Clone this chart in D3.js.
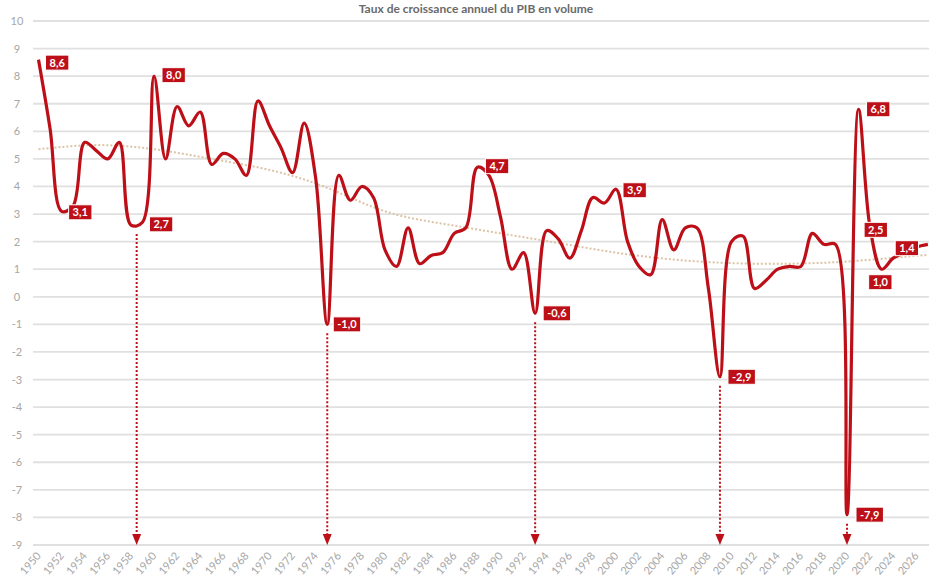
<!DOCTYPE html>
<html>
<head>
<meta charset="utf-8">
<script src="https://cdn.jsdelivr.net/npm/d3@7"></script>
<style>
  html, body { margin: 0; padding: 0; background: #ffffff; }
  svg { display: block; }
</style>
</head>
<body>
<svg id="chart" width="929" height="579"></svg>
<script>
// ---------- DATA ----------
const title = "Taux de croissance annuel du PIB en volume";
const firstYear = 1950;
const growth = [
  8.6, 6.1, 3.1, 3.3, 5.6, 5.3, 5.0, 5.6, 2.6, 2.7,   // 1950-1959
  8.0, 5.0, 6.9, 6.2, 6.7, 4.8, 5.2, 5.0, 4.4, 7.1,   // 1960-1969
  6.2, 5.4, 4.5, 6.3, 4.3, -1.0, 4.4, 3.5, 4.0, 3.6,  // 1970-1979
  1.7, 1.1, 2.5, 1.2, 1.5, 1.6, 2.3, 2.5, 4.7, 4.4,   // 1980-1989
  2.9, 1.0, 1.6, -0.6, 2.4, 2.1, 1.4, 2.4, 3.6, 3.4,  // 1990-1999
  3.9, 2.0, 1.1, 0.8, 2.8, 1.7, 2.5, 2.5, 0.3, -2.9,  // 2000-2009
  2.0, 2.2, 0.3, 0.6, 1.0, 1.1, 1.1, 2.3, 1.9, 1.9,   // 2010-2019
  -7.9, 6.8, 2.5, 1.0, 1.4, 1.6, 1.8, 1.9             // 2020-2027
];
const years = growth.map((_, i) => firstYear + i);

// trend line
const trendYears  = [1950, 1955, 1960, 1965, 1970, 1975, 1980, 1985, 1990, 1995, 2000, 2005, 2010, 2015, 2020, 2025, 2027];
const trendValues = [5.35, 5.5, 5.35, 5.0, 4.6, 3.95, 3.1, 2.65, 2.3, 1.95, 1.6, 1.35, 1.22, 1.2, 1.28, 1.45, 1.52];

// annotated points
const labelYears = [1950, 1952, 1959, 1960, 1975, 1988, 1993, 2000, 2009, 2020, 2021, 2022, 2023, 2024];
// recession arrows
const arrowYears = [1958.5, 1975, 1993, 2009, 2020];

const yTicks = [10, 9, 8, 7, 6, 5, 4, 3, 2, 1, 0, -1, -2, -3, -4, -5, -6, -7, -8, -9];
const xTickYears = years.filter(y => y % 2 === 0 && y <= 2026);

// ---------- LAYOUT / STYLE ----------
const RED = "#bd0f18";
const GRID = "#e0e0e0";
const AXIS_TXT = "#a6a6a6";
const fontAxis = "Lato, 'Open Sans', sans-serif";

// label placement (box left offset, centre offset relative to point)
const labelPlace = {
  1950: [7, 3], 1952: [7, 1], 1959: [7, 2], 1960: [8, -1], 1975: [6, 0],
  1988: [8, -1], 1993: [8, 0], 2000: [7, 1], 2009: [8, 0], 2020: [9, 0],
  2021: [8, 0], 2022: [-6, 2], 2023: [-13, 13], 2024: [2, -10]
};

const svg = d3.select("#chart");
const x = d3.scaleLinear().domain([1950, 2027]).range([38.5, 38.5 + 77 * 11.55]);
const y = d3.scaleLinear().domain([-9, 10]).range([545, 21]);

// title
svg.append("text")
  .attr("x", 476).attr("y", 13)
  .attr("text-anchor", "middle")
  .attr("font-family", fontAxis)
  .attr("font-weight", "bold")
  .attr("font-size", 12)
  .attr("fill", "#6a6a6a")
  .text(title);

// gridlines
svg.append("g").selectAll("line").data(yTicks).join("line")
  .attr("x1", 33).attr("x2", 929)
  .attr("y1", d => y(d)).attr("y2", d => y(d))
  .attr("stroke", GRID).attr("stroke-width", 1.8);

// y axis labels
svg.append("g").selectAll("text").data(yTicks).join("text")
  .attr("x", 17).attr("y", d => y(d) + 4)
  .attr("text-anchor", "middle")
  .attr("font-family", fontAxis)
  .attr("font-size", 11)
  .attr("fill", AXIS_TXT)
  .text(d => d);

// x axis labels
svg.append("g").selectAll("text").data(xTickYears).join("text")
  .attr("transform", d => `translate(${x(d) + 3},${556}) rotate(-50)`)
  .attr("text-anchor", "end")
  .attr("font-family", fontAxis)
  .attr("font-size", 11)
  .attr("fill", AXIS_TXT)
  .text(d => d);

// trend line
svg.append("path")
  .datum(trendYears.map((yr, i) => [yr, trendValues[i]]))
  .attr("d", d3.line().x(d => x(d[0])).y(d => y(d[1])).curve(d3.curveNatural))
  .attr("fill", "none")
  .attr("stroke", "#dcc3a6")
  .attr("stroke-width", 2)
  .attr("stroke-dasharray", "2,2");

// arrows
const valueAt = yr => {
  const i = Math.floor(yr - firstYear);
  const f = yr - firstYear - i;
  return f === 0 ? growth[i] : Math.min(growth[i], growth[i + 1]);
};
const arrows = svg.append("g");
arrowYears.forEach(yr => {
  const ax = x(yr);
  const top = y(valueAt(yr)) + 9;
  arrows.append("line")
    .attr("x1", ax).attr("x2", ax)
    .attr("y1", top).attr("y2", 536)
    .attr("stroke", RED).attr("stroke-width", 2)
    .attr("stroke-dasharray", "2,2");
  arrows.append("path")
    .attr("d", `M${ax - 4.5},${534} L${ax + 4.5},${534} L${ax},${545} Z`)
    .attr("fill", RED);
});

// main line
svg.append("path")
  .datum(years.map((yr, i) => [yr, growth[i]]))
  .attr("d", d3.line().x(d => x(d[0])).y(d => y(d[1])).curve(d3.curveCatmullRom.alpha(0.5)))
  .attr("fill", "none")
  .attr("stroke", RED)
  .attr("stroke-width", 3.2)
  .attr("stroke-linejoin", "round");

// value labels
const fmt = v => v.toFixed(1).replace(".", ",");
const lbl = svg.append("g");
labelYears.forEach(yr => {
  const v = growth[yr - firstYear];
  const [dx, dy] = labelPlace[yr];
  const px = x(yr), py = y(v);
  const g = lbl.append("g");
  const t = g.append("text")
    .attr("font-family", "Lato, 'Open Sans', sans-serif")
    .attr("font-weight", "bold")
    .attr("font-size", 11)
    .attr("fill", "#ffffff")
    .text(fmt(v));
  const w = t.node().getComputedTextLength() + 8;
  const h = 15;
  g.insert("rect", "text")
    .attr("x", px + dx).attr("y", py + dy - h / 2)
    .attr("width", w).attr("height", h)
    .attr("fill", RED)
    .attr("stroke", "#ffffff").attr("stroke-width", 1);
  t.attr("x", px + dx + w / 2).attr("y", py + dy + 4)
    .attr("text-anchor", "middle");
});
</script>
</body>
</html>
